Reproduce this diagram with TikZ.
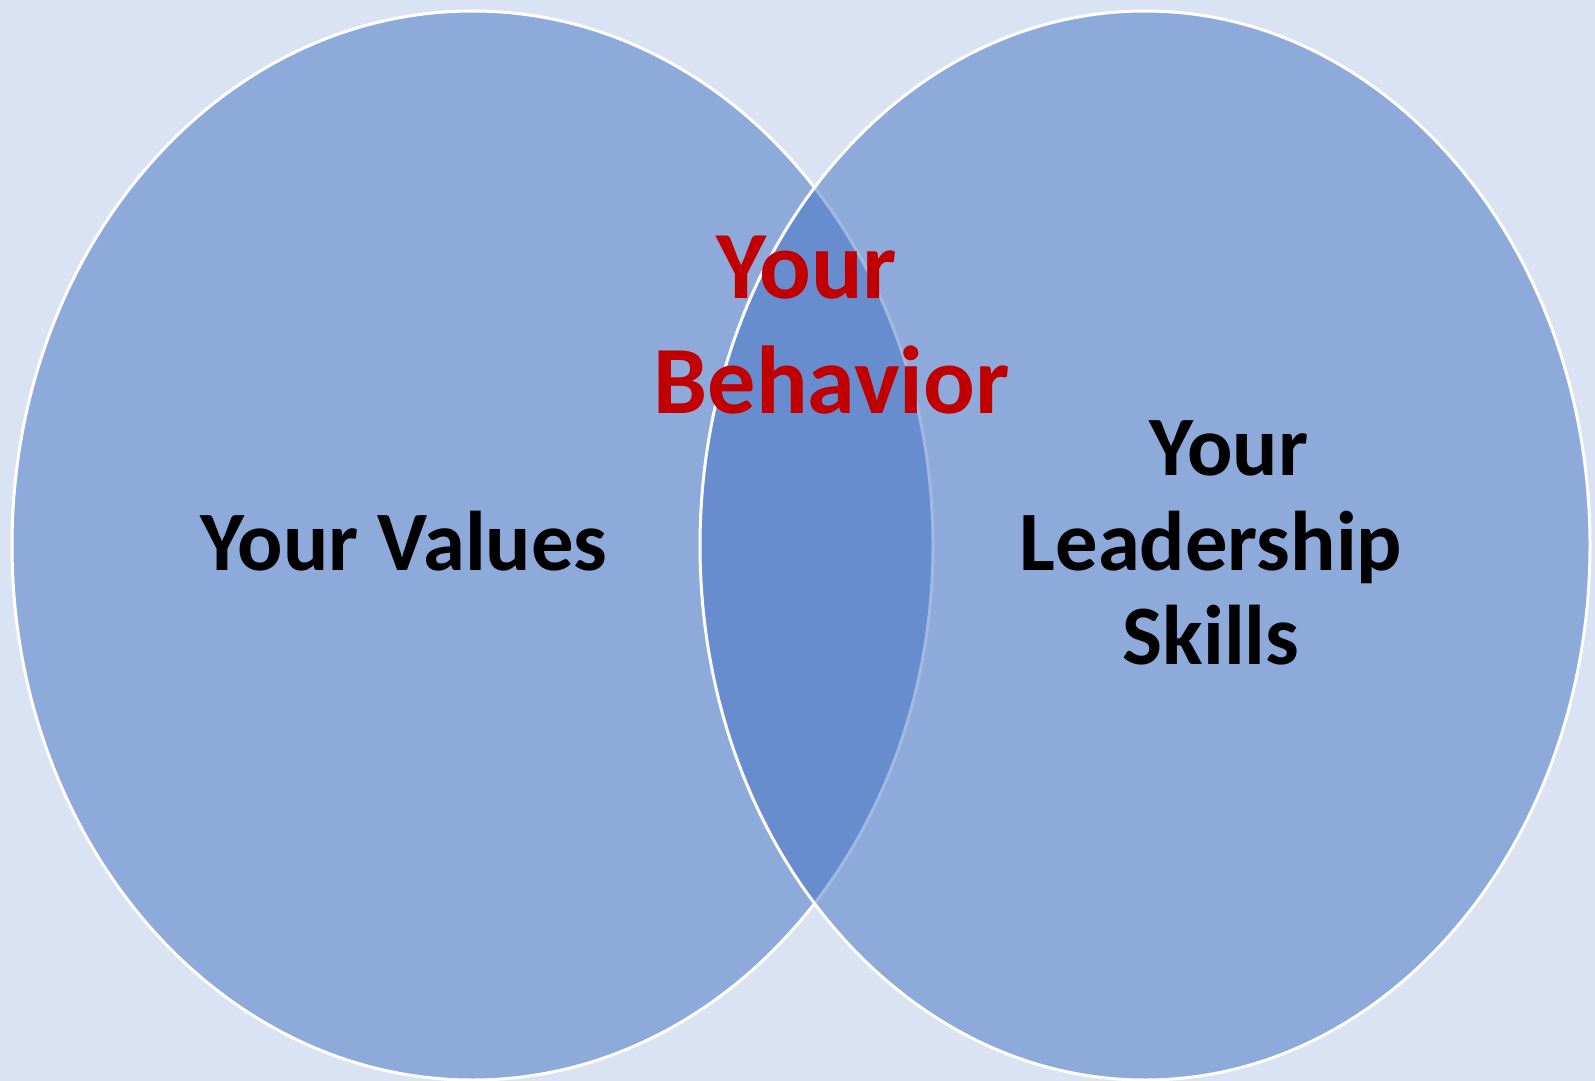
\documentclass[tikz,border=0pt]{standalone}
\usepackage{fontspec}
\setmainfont{Carlito}
\definecolor{bgblue}{HTML}{DAE3F3}
\definecolor{accent}{HTML}{4472C4}
\definecolor{darkred}{HTML}{C00000}
\tikzset{
  venn/.style={fill=accent, fill opacity=0.5},
  vennline/.style={draw=white, line width=1.5pt},
  blacklbl/.style={inner sep=0pt, anchor=base, text=black, font=\fontsize{42.3}{46}\selectfont\bfseries},
  redlbl/.style={inner sep=0pt, anchor=base, text=darkred, font=\fontsize{48.2}{53}\selectfont\bfseries},
}
\begin{document}
\begin{tikzpicture}[x=0.5pt, y=-0.5pt]
  \fill[bgblue] (0,0) rectangle (1595,1081);
  \useasboundingbox (0,0) rectangle (1595,1081);
  \coordinate (lc) at (472.5,545.5);
  \coordinate (rc) at (1145,545.5);
  \fill[venn] (lc) ellipse [x radius=460.5, y radius=534.5];
  \draw[vennline] (lc) ellipse [x radius=460.5, y radius=534.5];
  \fill[venn] (rc) ellipse [x radius=445, y radius=534.5];
  \draw[vennline] (rc) ellipse [x radius=445, y radius=534.5];
  \node[blacklbl] (values) at (404,570) {Your Values};
  \node[redlbl] (byour) at (807,298) {Your};
  \node[redlbl] (behav) at (831.5,413) {Behavior};
  \node[blacklbl] (lyour) at (1229,475) {Your};
  \node[blacklbl] (lead) at (1211,570) {Leadership};
  \node[blacklbl] (skills) at (1211,664) {Skills};
\end{tikzpicture}
\end{document}
